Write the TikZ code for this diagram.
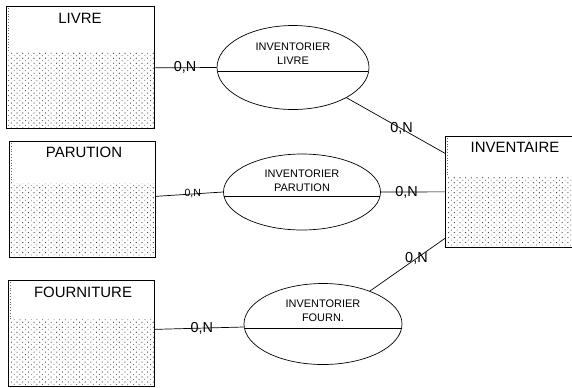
\documentclass[tikz,border=0pt]{standalone}
\usepackage{fontspec}
\setmainfont{Liberation Sans}
\usetikzlibrary{shapes.geometric,patterns}

\pgfdeclarepatternformonly{erdots}{\pgfqpoint{-1pt}{-1pt}}{\pgfqpoint{7pt}{6pt}}{\pgfqpoint{5.7pt}{5pt}}{%
  \pgfpathcircle{\pgfqpoint{0pt}{0pt}}{0.6pt}%
  \pgfpathcircle{\pgfqpoint{2.85pt}{2.5pt}}{0.45pt}%
  \pgfusepath{fill}%
}

\tikzset{
  entity/.style={draw, line width=0.7bp, rectangle, inner sep=0, anchor=north west},
  etitle/.style={font=\fontsize{15}{17}\selectfont, inner sep=0},
  rel/.style={draw, ellipse, line width=0.7bp, inner sep=0,
    path picture={\draw[line width=0.7bp] ([yshift=-4bp]path picture bounding box.west) -- ([yshift=-4bp]path picture bounding box.east);}},
  reltext/.style={font=\fontsize{11}{14}\selectfont, align=center, inner sep=0},
  conn/.style={line width=0.7bp},
  card/.style={font=\fontsize{14.5}{16}\selectfont, inner sep=0},
  smallcard/.style={font=\fontsize{10.5}{12}\selectfont, inner sep=0},
  dotfill/.style={pattern=erdots, pattern color=black!80},
  edgedots/.style={dotted, line width=0.8bp, black!60}
}

\begin{document}
\begin{tikzpicture}[x=1bp,y=-1bp]
\useasboundingbox (0,0) rectangle (572,387);
\clip (0,0) rectangle (572,387);

% dotted fills
\fill[dotfill] (6,52) rectangle (154,128);
\fill[dotfill] (9,183) rectangle (155,257);
\fill[dotfill] (8,319) rectangle (154,386);
\fill[dotfill] (445,177) rectangle (585,247);
\draw[edgedots] (8,8) -- (8,52);
\draw[edgedots] (11,143) -- (11,183);
\draw[edgedots] (10,282) -- (10,319);
\draw[edgedots] (447,138) -- (447,177);

% entities
\node[entity, minimum width=148bp, minimum height=122bp] (livre) at (6,6) {};
\node[etitle] (livreT) at (80,18) {LIVRE};
\node[entity, minimum width=146bp, minimum height=116bp] (parution) at (9,141) {};
\node[etitle] (parutionT) at (84,152) {PARUTION};
\node[entity, minimum width=146bp, minimum height=106bp] (fourniture) at (8,280) {};
\node[etitle] (fournitureT) at (83,292) {FOURNITURE};
\node[entity, minimum width=140bp, minimum height=111bp] (inventaire) at (445,136) {};
\node[etitle] (inventaireT) at (515,147) {INVENTAIRE};

% relations
\node[rel, minimum width=152bp, minimum height=84bp] (e1) at (293,67.5) {};
\node[reltext] (e1t) at ([yshift=13.5bp]e1.center) {INVENTORIER\\LIVRE};
\node[rel, minimum width=157bp, minimum height=76bp] (e2) at (302,192) {};
\node[reltext] (e2t) at ([yshift=11.5bp]e2.center) {INVENTORIER\\PARUTION};
\node[rel, minimum width=158bp, minimum height=81bp] (e3) at (323,324) {};
\node[reltext] (e3t) at ([yshift=13.5bp]e3.center) {INVENTORIER\\FOURN.};

\coordinate (inv1) at ([yshift=38.5bp]inventaire.west);
\coordinate (inv3) at ([yshift=-46.5bp]inventaire.west);

% connectors
\draw[conn] ([yshift=-0.5bp]livre.east) -- node[card, pos=0.49] {0,N} (e1.west);
\draw[conn] (e1) -- node[card, pos=0.56] {0,N} (inv1);
\draw[conn] ([yshift=3bp]parution.east) -- node[smallcard, pos=0.55] {0,N} (e2.west);
\draw[conn] (e2.east) -- node[card, pos=0.4] {0,N} (inventaire.west);
\draw[conn] ([yshift=4bp]fourniture.east) -- node[card, pos=0.53] {0,N} ([yshift=-3bp]e3.west);
\draw[conn] (e3) -- node[card, pos=0.62] {0,N} (inv3);
\end{tikzpicture}
\end{document}
